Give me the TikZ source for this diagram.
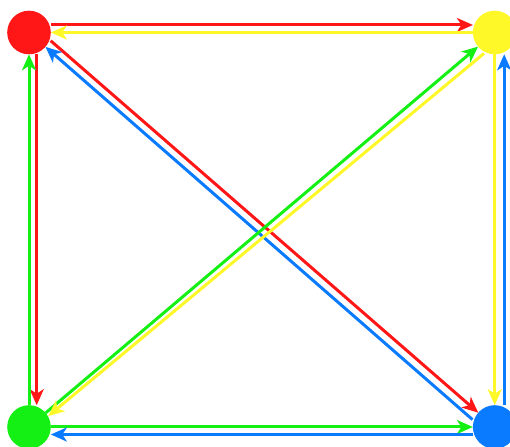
\documentclass[tikz,border=0pt]{standalone}
\usetikzlibrary{arrows.meta,calc}
\definecolor{cred}{RGB}{255,22,22}
\definecolor{cyellow}{RGB}{255,248,40}
\definecolor{cgreen}{RGB}{20,240,20}
\definecolor{cblue}{RGB}{10,122,255}
\begin{document}
\begin{tikzpicture}[x=1pt,y=1pt,
  dot/.style={circle,minimum size=43.6pt,inner sep=0pt,outer sep=0pt},
  link/.style={line width=3pt,-{Stealth[length=16pt,width=14pt,inset=4.5pt]},
    shorten <=21.8pt,shorten >=21.8pt}]
\useasboundingbox (0,0) rectangle (510,446);
\clip (0,0) rectangle (510,446);
\node[dot,fill=cred]    (R) at (29,413.5) {};
\node[dot,fill=cyellow] (Y) at (494.7,413.5) {};
\node[dot,fill=cgreen]  (G) at (29,19) {};
\node[dot,fill=cblue]   (B) at (494.7,19) {};
% top
\draw[link,cred]    ($(R.center)+(0,7.5)$) -- ($(Y.center)+(0,7.5)$);
\draw[link,cyellow] (Y.center) -- (R.center);
% left
\draw[link,cred]    ($(R.center)+(7.7,0)$) -- ($(G.center)+(7.7,0)$);
\draw[link,cgreen]  (G.center) -- (R.center);
% right
\draw[link,cyellow] (Y.center) -- (B.center);
\draw[link,cblue]   ($(B.center)+(9.5,0)$) -- ($(Y.center)+(9.5,0)$);
% bottom
\draw[link,cgreen]  (G.center) -- (B.center);
\draw[link,cblue]   ($(B.center)+(0,-7.5)$) -- ($(G.center)+(0,-7.5)$);
% diagonals
\draw[link,cred]    ($(R.center)+(5.2,6.1)$) -- (B.center);
\draw[link,cblue]   ($(B.center)+(-5.8,-6.9)$) -- (R.center);
\draw[link,cgreen]  (G.center) -- (Y.center);
\draw[link,cyellow] ($(Y.center)+(6,-7)$) -- ($(G.center)+(2.5,-3)$);
\end{tikzpicture}
\end{document}
